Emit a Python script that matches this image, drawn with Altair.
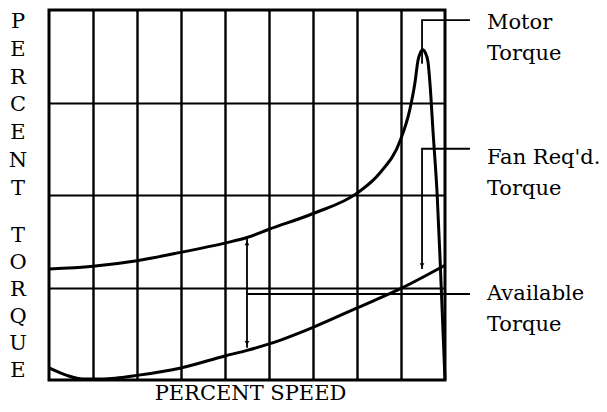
import altair as alt
import pandas as pd

# ---- data (percent speed vs percent torque) ----
motor_speed = [0, 11.1, 22.2, 33.3, 44.4, 50.0, 55.6, 66.7, 77.8, 83.6, 88.7, 91.1,
               92.4, 93.2, 93.8, 94.4, 95.0, 95.7, 96.2, 97.0, 98.0, 98.8, 100.0]
motor_torque = [120, 123, 129, 138, 148, 154, 163, 180, 202, 224, 259, 292,
                321, 346, 354, 357, 354, 344, 321, 267, 202, 126, 0]

fan_speed = [0, 4.5, 8.6, 11.1, 16.7, 22.2, 33.3, 44.4, 50.0, 55.6, 66.7, 77.8, 88.9, 100.0]
fan_torque = [13, 5, 1, 1, 2, 5, 13, 26, 32, 39, 57, 78, 99, 124]

x_grid = [100 * i / 9 for i in range(1, 9)]
y_grid = [100, 200, 300]

y_title_words = ["PERCENT", "TORQUE"]

label_texts = ["Motor\nTorque", "Fan Req'd.\nTorque", "Available\nTorque"]
label_speed = [110.6, 110.6, 110.6]
label_torque = [379, 234, 86]

# leader lines: (group, order, speed, torque)
leader_group = ["m", "m", "m", "f", "f", "f", "a", "a", "v", "v"]
leader_order = [0, 1, 2, 0, 1, 2, 0, 1, 0, 1]
leader_speed = [94.2, 94.2, 106.3, 106.3, 94.2, 94.2, 50.0, 106.3, 50.0, 50.0]
leader_torque = [342, 389, 389, 250, 250, 120, 93, 93, 153, 35]

arrow_speed = [50.0, 50.0, 94.2]
arrow_torque = [148, 40, 124]
arrow_shape = ["triangle-up", "triangle-down", "triangle-down"]

FONT = "DejaVu Serif"

motor = pd.DataFrame({"speed": motor_speed, "torque": motor_torque})
fan = pd.DataFrame({"speed": fan_speed, "torque": fan_torque})
labels = pd.DataFrame({"speed": label_speed, "torque": label_torque, "text": label_texts})
leaders = pd.DataFrame({"g": leader_group, "o": leader_order,
                        "speed": leader_speed, "torque": leader_torque})
arrows = pd.DataFrame({"speed": arrow_speed, "torque": arrow_torque, "shape": arrow_shape})

x_enc = alt.X(
    "speed:Q",
    scale=alt.Scale(domain=[0, 100], nice=False, zero=False),
    axis=alt.Axis(
        values=x_grid, grid=True, gridColor="black", gridWidth=2.4, gridOpacity=1,
        labels=False, ticks=False, domain=False,
        title="PERCENT SPEED", titleFont=FONT, titleFontSize=21,
        titleFontWeight="normal", titleColor="black",
        titleX=201, titleY=19, titleAlign="center", titleBaseline="alphabetic",
    ),
)
y_enc = alt.Y(
    "torque:Q",
    scale=alt.Scale(domain=[0, 400], nice=False, zero=False),
    axis=alt.Axis(
        values=y_grid, grid=True, gridColor="black", gridWidth=1.8, gridOpacity=1,
        labels=False, ticks=False, domain=False, title=None,
    ),
)

motor_line = alt.Chart(motor).mark_line(
    color="black", strokeWidth=3, interpolate="monotone"
).encode(x=x_enc, y=y_enc)

fan_line = alt.Chart(fan).mark_line(
    color="black", strokeWidth=3, interpolate="monotone"
).encode(x=x_enc, y=y_enc)

leader_lines = alt.Chart(leaders).mark_line(
    color="black", strokeWidth=1.8, clip=False
).encode(x=x_enc, y=y_enc, detail="g:N", order="o:Q")

arrow_pts = alt.Chart(arrows).mark_point(
    filled=True, color="black", size=22, opacity=1
).encode(x=x_enc, y=y_enc, shape=alt.Shape("shape:N", scale=None))

label_text = alt.Chart(labels).mark_text(
    font=FONT, fontSize=21, color="black", align="left", baseline="alphabetic",
    lineBreak="\n", lineHeight=31, clip=False
).encode(x=x_enc, y=y_enc, text="text:N")

# stacked vertical axis title, one letter per line
title_top = alt.Chart(pd.DataFrame({"t": ["\n".join(y_title_words[0])]})).mark_text(
    font=FONT, fontSize=21, color="black", align="center", baseline="alphabetic",
    lineBreak="\n", lineHeight=27.8, clip=False
).encode(x=alt.value(-31), y=alt.value(18), text="t:N")

title_bottom = alt.Chart(pd.DataFrame({"t": ["\n".join(y_title_words[1])]})).mark_text(
    font=FONT, fontSize=21, color="black", align="center", baseline="alphabetic",
    lineBreak="\n", lineHeight=27.0, clip=False
).encode(x=alt.value(-31), y=alt.value(232), text="t:N")

chart = alt.layer(
    motor_line, fan_line, leader_lines, arrow_pts, label_text, title_top, title_bottom
).properties(
    width=396, height=370,
    padding={"left": 41, "top": 2, "right": 154, "bottom": 24},
    autosize=alt.AutoSizeParams(type="none"),
    background="white",
).configure_view(stroke="black", strokeWidth=3)

chart.save("out.html", embed_options={"renderer": "svg", "actions": False})
